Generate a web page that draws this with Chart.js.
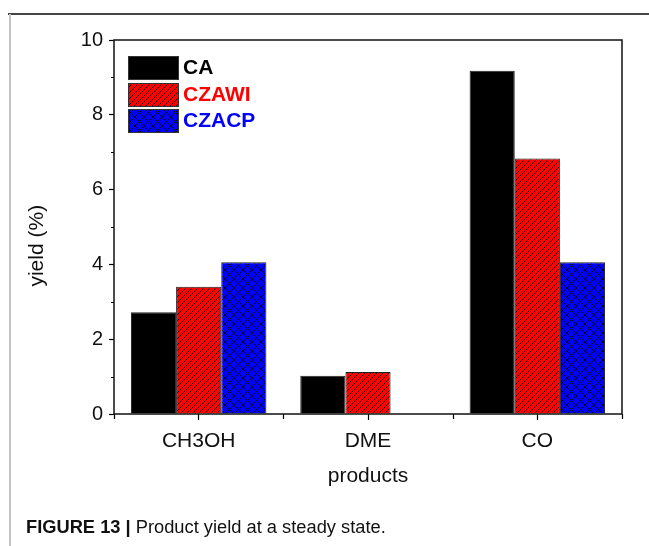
<!DOCTYPE html>
<html>
<head>
<meta charset="utf-8">
<script src="https://cdn.jsdelivr.net/npm/chart.js@4.4.1/dist/chart.umd.min.js"></script>
<style>
  html, body { margin: 0; padding: 0; background: #fff; }
  #wrap { position: relative; width: 649px; height: 546px; overflow: hidden; background: #fff; }
  #c { position: absolute; left: 0; top: 0; }
  #frameTop { position: absolute; left: 8px; top: 13px; width: 641px; height: 1.5px; background: #444; }
  #frameLeft { position: absolute; left: 9px; top: 14px; width: 2px; height: 532px; background: #c4c4c4; }
  #caption { position: absolute; left: 26px; top: 516px; font: 18.3px "Liberation Sans", Arial, sans-serif; color: #111; white-space: nowrap; }
  #caption b { font-weight: bold; }
</style>
</head>
<body>
<div id="wrap">
  <canvas id="c" width="649" height="546"></canvas>
  <div id="frameTop"></div>
  <div id="frameLeft"></div>
  <div id="caption"><b>FIGURE 13 |</b> Product yield at a steady state.</div>
</div>
<script>
// Product yields (%) at steady state for each catalyst
const categories = ['CH3OH', 'DME', 'CO'];
const seriesNames = ['CA', 'CZAWI', 'CZACP'];
const caYield = [2.72, 1.02, 9.18];
const czawiYield = [3.40, 1.12, 6.83];
const czacpYield = [4.06, null, 4.06];
const yTickValues = [0, 2, 4, 6, 8, 10];
const yTitle = 'yield (%)';

const FONT = '"Liberation Sans", Arial, sans-serif';

// Hatched fills: single diagonal for CZAWI, cross-hatch for CZACP
function hatch(bg, size, cross) {
  const t = document.createElement('canvas');
  t.width = size; t.height = size;
  const g = t.getContext('2d');
  g.fillStyle = bg;
  g.fillRect(0, 0, size, size);
  g.strokeStyle = '#000';
  g.lineWidth = 0.8;
  g.beginPath();
  g.moveTo(-1, size + 1); g.lineTo(size + 1, -1);
  g.moveTo(-size / 2 - 1, size / 2 + 1); g.lineTo(size / 2 + 1, -size / 2 - 1);
  g.moveTo(size / 2 - 1, size * 1.5 + 1); g.lineTo(size * 1.5 + 1, size / 2 - 1);
  if (cross) {
    g.moveTo(-1, -1); g.lineTo(size + 1, size + 1);
    g.moveTo(-size / 2 - 1, size / 2 - 1); g.lineTo(size / 2 + 1, size * 1.5 + 1);
    g.moveTo(size / 2 - 1, -size / 2 - 1); g.lineTo(size * 1.5 + 1, size / 2 + 1);
  }
  g.stroke();
  return g.createPattern(t, 'repeat');
}

const fills = ['#000000', hatch('#ff0000', 6, false), hatch('#0000ff', 9, true)];
const textColors = ['#000000', '#ff0000', '#0000ff'];
const seriesData = [caYield, czawiYield, czacpYield];

// Plot frame, minor ticks, y-axis title and in-plot legend
const decorations = {
  id: 'decorations',
  afterDraw(chart) {
    const { ctx, chartArea: a } = chart;
    const xs = chart.scales.x, ys = chart.scales.y;
    ctx.save();
    ctx.strokeStyle = '#000';
    // minor y ticks at odd values
    ctx.lineWidth = 1.2;
    ctx.beginPath();
    for (let v = 1; v < 10; v += 2) {
      const py = Math.round(ys.getPixelForValue(v)) + 0.5;
      ctx.moveTo(a.left - 3, py); ctx.lineTo(a.left, py);
    }
    // category boundary ticks on the x axis
    for (let i = 0; i <= categories.length; i++) {
      const px = Math.round(xs.getPixelForValue(i - 0.5)) + 0.5;
      ctx.moveTo(px, a.bottom); ctx.lineTo(px, a.bottom + 5);
    }
    ctx.stroke();
    // frame
    ctx.lineWidth = 1.5;
    ctx.strokeStyle = '#111';
    ctx.strokeRect(a.left, a.top, a.right - a.left, a.bottom - a.top);

    // y-axis title, sitting slightly below the axis midpoint
    ctx.save();
    ctx.translate(37, ys.getPixelForValue(4.5));
    ctx.rotate(-Math.PI / 2);
    ctx.font = '21px ' + FONT;
    ctx.fillStyle = '#111';
    ctx.textAlign = 'center';
    ctx.textBaseline = 'middle';
    ctx.fillText(yTitle, 0, 0);
    ctx.restore();

    // legend
    const bx = 128, bw = 50, bh = 23, rows = [56, 83, 109];
    ctx.font = 'bold 21px ' + FONT;
    ctx.textBaseline = 'middle';
    ctx.textAlign = 'left';
    seriesNames.forEach((name, i) => {
      ctx.fillStyle = fills[i];
      ctx.fillRect(bx, rows[i], bw, bh);
      ctx.lineWidth = 1;
      ctx.strokeStyle = '#333';
      ctx.strokeRect(bx + 0.5, rows[i] + 0.5, bw, bh);
      ctx.fillStyle = textColors[i];
      ctx.fillText(name, bx + bw + 5, rows[i] + bh / 2 + 1);
    });
    ctx.restore();
  }
};

new Chart(document.getElementById('c'), {
  type: 'bar',
  data: {
    labels: categories,
    datasets: seriesNames.map((name, i) => ({
      label: name,
      data: seriesData[i],
      backgroundColor: fills[i],
      borderColor: '#222',
      borderWidth: 1
    }))
  },
  options: {
    responsive: false,
    animation: false,
    devicePixelRatio: 1,
    layout: { padding: { top: 40, right: 27, left: 0, bottom: 0 } },
    datasets: { bar: { categoryPercentage: 0.8, barPercentage: 1.0 } },
    plugins: { legend: { display: false }, tooltip: { enabled: false } },
    scales: {
      x: {
        grid: { display: true, drawOnChartArea: false, drawTicks: true, tickLength: 6, offset: false, color: '#000', tickWidth: 1.2 },
        border: { display: false },
        ticks: { color: '#111', font: { family: FONT, size: 21 }, padding: 9, maxRotation: 0 },
        title: { display: true, text: 'products', color: '#111', font: { family: FONT, size: 21 }, padding: { top: 0, bottom: 57 } },
        afterFit(s) { s.height = 132; }
      },
      y: {
        min: 0, max: 10,
        afterBuildTicks(s) { s.ticks = yTickValues.map(v => ({ value: v })); },
        grid: { display: true, drawOnChartArea: false, drawTicks: true, tickLength: 5, color: '#000', tickWidth: 1.2 },
        border: { display: false },
        ticks: { color: '#111', font: { family: FONT, size: 20 }, padding: 6 },
        title: { display: false },
        afterFit(s) { s.width = 114; }
      }
    }
  },
  plugins: [decorations]
});
</script>
</body>
</html>
